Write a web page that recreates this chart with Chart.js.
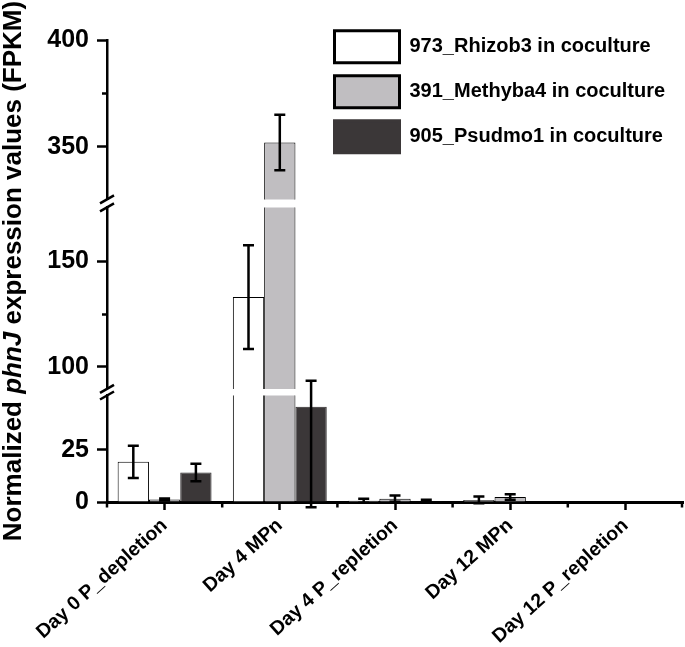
<!DOCTYPE html>
<html>
<head>
<meta charset="utf-8">
<script src="https://cdn.jsdelivr.net/npm/chart.js@4"></script>
<style>
  html, body { margin: 0; padding: 0; background: #fff; }
</style>
</head>
<body>
<canvas id="chart" width="685" height="647"></canvas>
<script>
var categories = ['Day 0 P_depletion', 'Day 4 MPn', 'Day 4 P_repletion', 'Day 12 MPn', 'Day 12 P_repletion'];
var seriesNames = ['973_Rhizob3 in coculture', '391_Methyba4 in coculture', '905_Psudmo1 in coculture'];
var rhizob3 = [19.2, 133, 0.6, 1.0, 0];
var rhizob3Err = [7.7, 24.5, 1.0, 1.6, 0];
var methyba4 = [1.2, 352, 1.6, 2.4, 0];
var methyba4Err = [0.5, 13, 1.5, 1.3, 0];
var psudmo1 = [14.1, 45.5, 0.4, 0.1, 0];
var psudmo1Err = [4.2, 48, 0.7, 0, 0];

// broken y axis, three segments (bottom, middle, top)
var lowRange = [0, 50.9];
var midRange = [89.6, 175.4];
var topRange = [325.4, 400];
var lowTicks = [0, 25];
var midTicks = [100, 125, 150];
var topTicks = [350, 375, 400];
var minorTicks = [125, 375];

var FONT = "'Liberation Sans', Arial, sans-serif";
var fills = ['#ffffff', '#c0bec1', '#3b3738'];
var borders = ['#000000', '#000000', '#2b2829'];
var values = [rhizob3, methyba4, psudmo1];
var errors = [rhizob3Err, methyba4Err, psudmo1Err];
var segAxes = ['yLow', 'yMid', 'yTop'];

var datasets = [];
for (var s = 0; s < segAxes.length; s++) {
    for (var i = 0; i < values.length; i++) {
        datasets.push({
            label: seriesNames[i],
            data: values[i],
            yAxisID: segAxes[s],
            stack: 'series' + i,
            backgroundColor: fills[i],
            borderColor: borders[i],
            borderWidth: 1,
            clip: 0,
            categoryPercentage: 0.815,
            barPercentage: 1.0
        });
    }
}

function isMinor(c) {
    return c.tick && minorTicks.indexOf(c.tick.value) >= 0;
}

function segAxis(range, ticks, weight) {
    return {
        type: 'linear',
        position: 'left',
        stack: 'y',
        stackWeight: weight,
        stacked: false,
        min: range[0],
        max: range[1],
        afterBuildTicks: function (axis) {
            axis.ticks = ticks.map(function (v) { return { value: v }; });
        },
        afterFit: function (axis) { axis.width = 107; },
        border: { display: true, color: '#000', width: 2.5 },
        grid: {
            drawOnChartArea: false,
            tickLength: 10,
            tickWidth: 2.5,
            tickColor: '#000',
            tickBorderDash: function (c) { return isMinor(c) ? [5, 100] : []; },
            tickBorderDashOffset: function (c) { return isMinor(c) ? 100 : 0; }
        },
        ticks: {
            padding: 8,
            color: '#000',
            font: { family: FONT, size: 25, weight: 'bold' },
            callback: function (v) { return minorTicks.indexOf(v) >= 0 ? '' : v; }
        }
    };
}

function gapAxis(weight) {
    return {
        type: 'linear',
        position: 'left',
        stack: 'y',
        stackWeight: weight,
        min: 0,
        max: 1,
        afterFit: function (axis) { axis.width = 107; },
        border: { display: false },
        grid: { display: false },
        ticks: { display: false }
    };
}

function valueToPixel(chart, v) {
    var lo = chart.scales.yLow, mid = chart.scales.yMid, top = chart.scales.yTop;
    if (v <= lo.max) return lo.getPixelForValue(v);
    if (v < mid.min) return lo.top;
    if (v <= mid.max) return mid.getPixelForValue(v);
    if (v < top.min) return mid.top;
    return top.getPixelForValue(v);
}

var errorBars = {
    id: 'errorBars',
    afterDatasetsDraw: function (chart) {
        var ctx = chart.ctx;
        ctx.save();
        ctx.strokeStyle = '#000';
        ctx.lineWidth = 2.5;
        for (var i = 0; i < values.length; i++) {
            var meta = chart.getDatasetMeta(i);
            for (var j = 0; j < values[i].length; j++) {
                var e = errors[i][j];
                if (!e) continue;
                var x = meta.data[j].x;
                var yHi = valueToPixel(chart, values[i][j] + e);
                var yLo = valueToPixel(chart, values[i][j] - e);
                ctx.beginPath();
                ctx.moveTo(x, yHi); ctx.lineTo(x, yLo);
                ctx.moveTo(x - 5.5, yHi); ctx.lineTo(x + 5.5, yHi);
                ctx.moveTo(x - 5.5, yLo); ctx.lineTo(x + 5.5, yLo);
                ctx.stroke();
            }
        }
        ctx.restore();
    }
};

var axisDecor = {
    id: 'axisDecor',
    afterDraw: function (chart) {
        var ctx = chart.ctx;
        var ax = chart.scales.yLow.right;
        ctx.save();
        ctx.strokeStyle = '#000';
        ctx.lineWidth = 2.5;
        // break marks
        ['gapLow', 'gapHigh'].forEach(function (id) {
            var g = chart.scales[id];
            [g.top, g.bottom].forEach(function (y) {
                ctx.beginPath();
                ctx.moveTo(ax - 7, y + 4);
                ctx.lineTo(ax + 7, y - 4);
                ctx.stroke();
            });
        });
        // minor ticks between categories
        var xs = chart.scales.x;
        var w = (xs.right - xs.left) / categories.length;
        for (var k = 0; k <= categories.length; k++) {
            var x = Math.min(xs.left + k * w, xs.right - 1);
            ctx.beginPath();
            ctx.moveTo(x, xs.top);
            ctx.lineTo(x, xs.top + 5.5);
            ctx.stroke();
        }
        ctx.restore();
    }
};

var yTitle = {
    id: 'yTitle',
    afterDraw: function (chart) {
        var ctx = chart.ctx;
        var runs = [['Normalized ', 'bold'], ['phnJ', 'italic bold'], [' expression values (FPKM)', 'bold']];
        var size = 26;
        ctx.save();
        ctx.translate(14, (chart.chartArea.top + chart.chartArea.bottom) / 2);
        ctx.rotate(-Math.PI / 2);
        ctx.fillStyle = '#000';
        ctx.textBaseline = 'middle';
        var total = 0;
        runs.forEach(function (r) {
            ctx.font = r[1] + ' ' + size + 'px ' + FONT;
            total += ctx.measureText(r[0]).width;
        });
        var x = -total / 2;
        runs.forEach(function (r) {
            ctx.font = r[1] + ' ' + size + 'px ' + FONT;
            ctx.fillText(r[0], x, 0);
            x += ctx.measureText(r[0]).width;
        });
        ctx.restore();
    }
};

var legendPlacer = {
    id: 'legendPlacer',
    beforeDraw: function (chart) {
        var lg = chart.legend;
        lg.left = 321.5;
        lg.top = 17.8;
        lg.right = 685;
        lg.bottom = 220;
        lg.width = lg.right - lg.left;
        lg.height = lg.bottom - lg.top;
    }
};

var ctx = document.getElementById('chart').getContext('2d');
var chart = new Chart(ctx, {
    type: 'bar',
    data: {
        labels: categories,
        datasets: datasets
    },
    options: {
        responsive: false,
        animation: false,
        events: [],
        layout: { padding: { top: 40, right: 2, left: 0, bottom: 0 } },
        scales: {
            yLow: segAxis(lowRange, lowTicks, 106.4),
            gapLow: gapAxis(6.6),
            yMid: segAxis(midRange, midTicks, 181.4),
            gapHigh: gapAxis(8),
            yTop: segAxis(topRange, topTicks, 159.3),
            x: {
                type: 'category',
                offset: true,
                afterFit: function (axis) { axis.height = 145; },
                border: { display: true, color: '#000', width: 3 },
                grid: { drawOnChartArea: false, offset: false, tickLength: 8, tickWidth: 2.5, tickColor: '#000' },
                ticks: {
                    color: '#000',
                    autoSkip: false,
                    minRotation: 42,
                    maxRotation: 42,
                    padding: 4,
                    font: { family: FONT, size: 19.5, weight: 'bold' }
                }
            }
        },
        plugins: {
            tooltip: { enabled: false },
            legend: {
                position: 'chartArea',
                align: 'start',
                labels: {
                    boxWidth: 65,
                    boxHeight: 32,
                    padding: 13,
                    color: '#000',
                    font: { family: FONT, size: 20, weight: 'bold' },
                    generateLabels: function (chart) {
                        var items = Chart.defaults.plugins.legend.labels.generateLabels(chart).slice(0, 3);
                        items.forEach(function (it, i) {
                            it.lineWidth = 3;
                            it.strokeStyle = i === 2 ? fills[2] : '#000';
                        });
                        return items;
                    }
                }
            }
        }
    },
    plugins: [legendPlacer, errorBars, axisDecor, yTitle]
});
</script>
</body>
</html>
